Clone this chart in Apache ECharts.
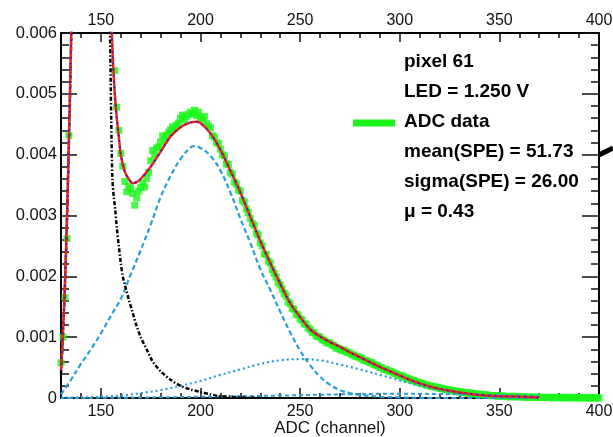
<!DOCTYPE html>
<html>
<head>
<meta charset="utf-8">
<script src="https://cdn.jsdelivr.net/npm/echarts@6/dist/echarts.min.js"></script>
<style>
  html, body { margin: 0; padding: 0; background: #fff; }
  #chart { width: 613px; height: 437px; }
</style>
</head>
<body>
<div id="chart"></div>
<script>
// ADC spectrum of one pixel, one entry per ADC channel starting at firstChannel.
// null marks bins whose content lies above the top of the frame (pedestal peak).
const firstChannel = 130;
const adcData = [
  0.00058, 0.00100, 0.00165, 0.00262, 0.00432, null, null, null, null, null,
  null, null, null, null, null, null, null, null, null, null,
  null, null, null, null, null, null, null, 0.00538, 0.00478, 0.00440,
  0.00402, 0.00381, 0.00356, 0.00339, 0.00348, 0.00344, 0.00336, 0.00317, 0.00329, 0.00340,
  0.00346, 0.00353, 0.00347, 0.00361, 0.00371, 0.00390, 0.00407, 0.00400, 0.00411, 0.00413,
  0.00421, 0.00431, 0.00424, 0.00432, 0.00437, 0.00441, 0.00446, 0.00443, 0.00449, 0.00452,
  0.00460, 0.00465, 0.00457, 0.00463, 0.00466, 0.00470, 0.00467, 0.00473, 0.00464, 0.00470,
  0.00461, 0.00458, 0.00463, 0.00451, 0.00447, 0.00444, 0.00431, 0.00429, 0.00420, 0.00418,
  0.00409, 0.00400, 0.00398, 0.00385, 0.00384, 0.00371, 0.00368, 0.00355, 0.00352, 0.00342,
  0.00340, 0.00325, 0.00322, 0.00311, 0.00305, 0.00295, 0.00287, 0.00284, 0.00271, 0.00268,
  0.00255, 0.00250, 0.00237, 0.00236, 0.00225, 0.00222, 0.00211, 0.00205, 0.00199, 0.00190,
  0.00186, 0.00179, 0.00172, 0.00168, 0.00158, 0.00155, 0.00147, 0.00146, 0.00138, 0.00136,
  0.00130, 0.00128, 0.00122, 0.00121, 0.00115, 0.00113, 0.00108, 0.00107, 0.00102, 0.00101,
  0.00100, 0.00096, 0.00095, 0.00092, 0.00090, 0.00091, 0.00087, 0.00086, 0.00082, 0.00082,
  0.00080, 0.00078, 0.00079, 0.00076, 0.00075, 0.00074, 0.00071, 0.00071, 0.00068, 0.00068,
  0.00066, 0.00065, 0.00062, 0.00062, 0.00060, 0.00058, 0.00058, 0.00055, 0.00054, 0.00053,
  0.00050, 0.00050, 0.00047, 0.00047, 0.00045, 0.00044, 0.00043, 0.00041, 0.00040, 0.00038,
  0.00037, 0.00036, 0.00035, 0.00033, 0.00032, 0.00031, 0.00029, 0.00029, 0.00027, 0.00026,
  0.00025, 0.00024, 0.00023, 0.00022, 0.00021, 0.00020, 0.00019, 0.00019, 0.00018, 0.00017,
  0.00016, 0.00016, 0.00015, 0.00014, 0.00014, 0.00013, 0.00012, 0.00012, 0.00011, 0.00011,
  0.00010, 0.00010, 0.00009, 0.00009, 0.00008, 0.00008, 0.00008, 0.00007, 0.00007, 0.00006,
  0.00006, 0.00006, 0.00005, 0.00005, 0.00005, 0.00004, 0.00004, 0.00004, 0.00004, 0.00003,
  0.00003, 0.00003, 0.00003, 0.00003, 0.00002, 0.00002, 0.00002, 0.00003, 0.00002, 0.00002,
  0.00002, 0.00002, 0.00002, 0.00001, 0.00002, 0.00001, 0.00001, 0.00002, 0.00001, 0.00001,
  0.00001, 0.00001, 0.00001, 0.00001, 0.00001, 0.00001, 0.00001, 0.00000, 0.00001, 0.00001,
  0.00001, 0.00000, 0.00001, 0.00001, 0.00000, 0.00001, 0.00000, 0.00001, 0.00000, 0.00001,
  0.00000, 0.00001, 0.00000, 0.00001, 0.00000, 0.00000, 0.00001, 0.00000, 0.00000, 0.00001,
  0.00000
];

// Total fit function
const totalFitX = [130, 131, 132, 133, 134, 135, 136, 145, 154, 155, 156, 157, 158, 159, 160,
  162, 164, 166, 168, 170, 175, 180, 185, 190, 195, 197.5, 200, 205, 210, 215, 220, 225, 230,
  235, 240, 245, 250, 255, 260, 265, 270, 275, 280, 285, 290, 295, 300, 305, 310, 315, 320,
  325, 330, 335, 340, 350, 360, 370];
const totalFitY = [0.00045, 0.0011, 0.0019, 0.0030, 0.0043, 0.0058, 0.0076, 0.030, 0.0078,
  0.0065, 0.0056, 0.0050, 0.0046, 0.0043, 0.0040, 0.00372, 0.0036, 0.00353, 0.00355, 0.0036,
  0.0038, 0.00405, 0.0043, 0.00445, 0.00453, 0.00454, 0.00452, 0.00435, 0.00408, 0.00374,
  0.00338, 0.00298, 0.00258, 0.00222, 0.00188, 0.00156, 0.00133, 0.00113, 0.00101, 0.00092,
  0.00084, 0.00075, 0.00067, 0.00059, 0.00051, 0.00044, 0.00037, 0.00030, 0.00024, 0.00019,
  0.00015, 0.00012, 0.00009, 0.00007, 0.00005, 0.00003, 0.00002, 0.00001];

// Pedestal component
const pedestalX = [130, 131, 132, 133, 134, 135, 136, 145, 153, 154, 154.6, 155.2, 155.8, 156.5,
  157.2, 158, 159, 160, 161, 162, 164, 166, 168, 170, 173, 176, 180, 185, 190, 195, 200, 205,
  210, 215, 220, 230];
const pedestalY = [0.0004, 0.00105, 0.00185, 0.0029, 0.0042, 0.0057, 0.0075, 0.030, 0.0090,
  0.0070, 0.0060, 0.0046, 0.0036, 0.0033, 0.0031, 0.0028, 0.0025, 0.00222, 0.0020, 0.00187,
  0.00162, 0.0014, 0.00118, 0.0010, 0.0008, 0.0006, 0.00044, 0.0003, 0.0002, 0.00014, 0.0001,
  0.00006, 0.00003, 0.00002, 0.00001, 0];

// Single photo-electron component
const onePeX = [130, 135, 140, 145, 150, 155, 160, 165, 170, 175, 180, 185, 190, 195, 197, 200,
  205, 210, 215, 220, 225, 230, 235, 240, 245, 250, 255, 260, 265, 270, 275, 280, 290, 300, 320,
  370];
const onePeY = [0.00006, 0.0003, 0.00056, 0.0008, 0.00106, 0.00135, 0.00163, 0.00203, 0.00243,
  0.00285, 0.0033, 0.00365, 0.00393, 0.00412, 0.00414, 0.00411, 0.00398, 0.00374, 0.00338,
  0.00295, 0.00255, 0.00212, 0.00178, 0.00142, 0.00108, 0.00078, 0.00054, 0.00035, 0.00022,
  0.00013, 0.00008, 0.00005, 0.00002, 0.00001, 0, 0];

// Two photo-electron component
const twoPeX = [130, 140, 150, 160, 170, 180, 190, 200, 210, 220, 230, 240, 250, 260, 270, 280,
  290, 300, 310, 320, 330, 340, 350, 360, 370];
const twoPeY = [0.000005, 0.00001, 0.00002, 0.00004, 0.00008, 0.00013, 0.0002, 0.00028, 0.00038,
  0.00047, 0.00056, 0.00062, 0.00064, 0.00062, 0.00055, 0.00047, 0.00038, 0.00029, 0.0002,
  0.00013, 0.00008, 0.00005, 0.00003, 0.00002, 0.00001];

// Three photo-electron component
const threePeX = [130, 160, 200, 240, 270, 300, 330, 360, 370];
const threePeY = [0, 0.000005, 0.00002, 0.00004, 0.00006, 0.00007, 0.00006, 0.00004, 0.00003];

// Axis ticks
const xMajorTicks = [150, 200, 250, 300, 350, 400];
const xMinorTicks = [140, 160, 170, 180, 190, 210, 220, 230, 240, 260, 270, 280, 290, 310, 320,
  330, 340, 360, 370, 380, 390];

const legendRows = ['pixel 61', 'LED = 1.250 V', 'ADC data', 'mean(SPE) = 51.73',
  'sigma(SPE) = 26.00', '\u03bc = 0.43'];

const zip = (xs, ys) => xs.map((x, i) => [x, ys[i]]);
const histPoints = adcData.map((v, i) => [firstChannel + i, v]);

const FONT = '"Liberation Sans", Arial, sans-serif';
const lightBlue = '#2a9fd6';

function xAxis(pos, major, tickLen, labelMargin) {
  const common = {
    type: 'value', position: pos, min: 130, max: 400,
    splitLine: { show: false }
  };
  if (major) {
    return Object.assign(common, {
      axisLine: { show: true, onZero: false, lineStyle: { color: '#000', width: 2 } },
      axisTick: { show: true, inside: true, length: tickLen, customValues: xMajorTicks,
        lineStyle: { color: '#111', width: 1.5 } },
      axisLabel: { show: true, customValues: xMajorTicks, color: '#111',
        fontFamily: FONT, fontSize: 16, margin: labelMargin }
    });
  }
  return Object.assign(common, {
    axisLine: { show: false, onZero: false },
    axisTick: { show: true, inside: true, length: tickLen, customValues: xMinorTicks,
      lineStyle: { color: '#111', width: 1.5 } },
    axisLabel: { show: false }
  });
}

const chart = echarts.init(document.getElementById('chart'), null, { renderer: 'canvas' });

const bottomMajor = xAxis('bottom', true, 10, 6);
bottomMajor.name = 'ADC (channel)';
bottomMajor.nameLocation = 'middle';
bottomMajor.nameGap = 22;
bottomMajor.nameMoveOverlap = false;
bottomMajor.nameTextStyle = { color: '#111', fontFamily: FONT, fontSize: 17 };

function yAxis(pos, majorLen, minorLen, withLabels) {
  return {
    type: 'value', position: pos, min: 0, max: 0.006, interval: 0.001,
    splitLine: { show: false },
    axisLine: { show: true, lineStyle: { color: '#000', width: 2 } },
    axisTick: { show: true, inside: true, length: majorLen, lineStyle: { color: '#111', width: 1.5 } },
    minorTick: { show: true, splitNumber: 5, length: minorLen, lineStyle: { color: '#111', width: 1.5 } },
    axisLabel: {
      show: withLabels, color: '#111', fontFamily: FONT, fontSize: 16.5, margin: 4,
      formatter: v => (v === 0 ? '0' : v.toFixed(3))
    }
  };
}

const legendGraphics = legendRows.map((t, i) => ({
  type: 'text', x: 404, y: 62 + i * 30, z: 100,
  style: { text: t, fill: '#000', font: 'bold 19px ' + FONT, verticalAlign: 'middle' }
}));

chart.setOption({
  animation: false,
  backgroundColor: '#fff',
  grid: { left: 61, right: 14, top: 33, bottom: 39, containLabel: false, outerBoundsMode: 'none' },
  xAxis: [
    bottomMajor,
    xAxis('bottom', false, 5, 0),
    xAxis('top', true, 9, 4),
    xAxis('top', false, 5, 0)
  ],
  yAxis: [yAxis('left', 16, 8, true), yAxis('right', 17, 8, false)],
  series: [
    {
      name: 'ADC data', type: 'scatter', data: histPoints, symbol: 'rect', symbolSize: 7,
      itemStyle: { color: '#1cf51c' }, clip: true, z: 1
    },
    {
      type: 'line', data: zip(threePeX, threePeY), showSymbol: false, smooth: 0.4, clip: true, z: 2,
      lineStyle: { color: lightBlue, width: 2, type: [4, 3] }
    },
    {
      type: 'line', data: zip(twoPeX, twoPeY), showSymbol: false, smooth: 0.4, clip: true, z: 2,
      lineStyle: { color: lightBlue, width: 2.2, type: [2, 3] }
    },
    {
      type: 'line', data: zip(onePeX, onePeY), showSymbol: false, smooth: 0.4, clip: true, z: 2,
      lineStyle: { color: lightBlue, width: 2.2, type: [5, 3] }
    },
    {
      type: 'line', data: zip(pedestalX, pedestalY), showSymbol: false, smooth: 0.3, clip: true, z: 3,
      lineStyle: { color: '#000', width: 2.5, type: [4, 2, 1.5, 2] }
    },
    {
      type: 'line', data: zip(totalFitX, totalFitY), showSymbol: false, smooth: 0.3, clip: true, z: 4,
      lineStyle: { color: '#e8261e', width: 2.5 }
    },
    {
      type: 'line', data: zip(totalFitX, totalFitY), showSymbol: false, smooth: 0.3, clip: true, z: 5,
      lineStyle: { color: '#2020c8', width: 1.8, type: [1.5, 4.5] }
    }
  ],
  graphic: legendGraphics.concat([
    {
      type: 'line', z: 100, shape: { x1: 353, y1: 123, x2: 395, y2: 123 },
      style: { stroke: '#1cf51c', lineWidth: 7 }
    },
    {
      type: 'line', z: 100, shape: { x1: 599, y1: 155, x2: 613, y2: 148 },
      style: { stroke: '#000', lineWidth: 5 }
    }
  ])
});
</script>
</body>
</html>
